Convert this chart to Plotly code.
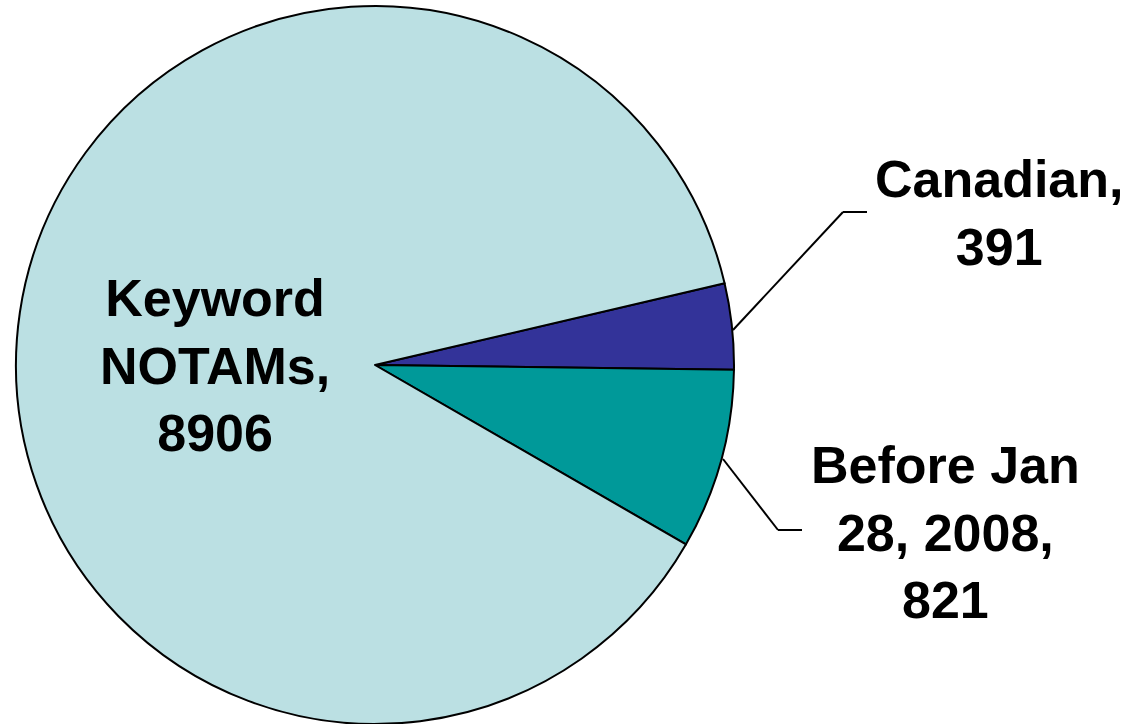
import plotly.graph_objects as go

# Data
labels = ["Canadian", "Before Jan 28, 2008", "Keyword NOTAMs"]
values = [391, 821, 8906]
display_labels = ["Canadian,", "Before Jan<br>28, 2008,", "Keyword<br>NOTAMs,"]
colors = ["#333399", "#009999", "#BBE0E3"]

W, H = 1132, 724

def px(x):
    return x / W

def py(y):
    return 1 - y / H

fig = go.Figure()
fig.add_trace(go.Pie(
    labels=labels,
    values=values,
    sort=False,
    direction="clockwise",
    rotation=76.85,
    marker=dict(colors=colors, line=dict(color="black", width=2)),
    textinfo="none",
    hoverinfo="label+value",
    showlegend=False,
    domain=dict(x=[px(15), px(735)], y=[0, py(6)]),
))

# label positions (pixel centers)
label_pos = {
    "Canadian": (999, 213),
    "Before Jan 28, 2008": (945, 532),
    "Keyword NOTAMs": (215, 365),
}
font = dict(family="Liberation Sans, Arial, sans-serif", size=52, color="black")
for lab, disp, val in zip(labels, display_labels, values):
    x, y = label_pos[lab]
    fig.add_annotation(
        x=px(x), y=py(y), xref="paper", yref="paper",
        text=f"<b>{disp}<br>{val}</b>", showarrow=False,
        xanchor="center", yanchor="middle", align="center", font=font,
    )

# leader lines
leaders = [
    [(733, 330), (843, 212), (867, 212)],
    [(723, 459), (778, 530), (802, 530)],
]
for pts in leaders:
    for (x0, y0), (x1, y1) in zip(pts[:-1], pts[1:]):
        fig.add_shape(type="line", xref="paper", yref="paper",
                      x0=px(x0), y0=py(y0), x1=px(x1), y1=py(y1),
                      line=dict(color="black", width=2))

fig.update_layout(
    width=W, height=H,
    margin=dict(l=0, r=0, t=0, b=0),
    paper_bgcolor="white",
    plot_bgcolor="white",
)

fig.write_html("out.html")
